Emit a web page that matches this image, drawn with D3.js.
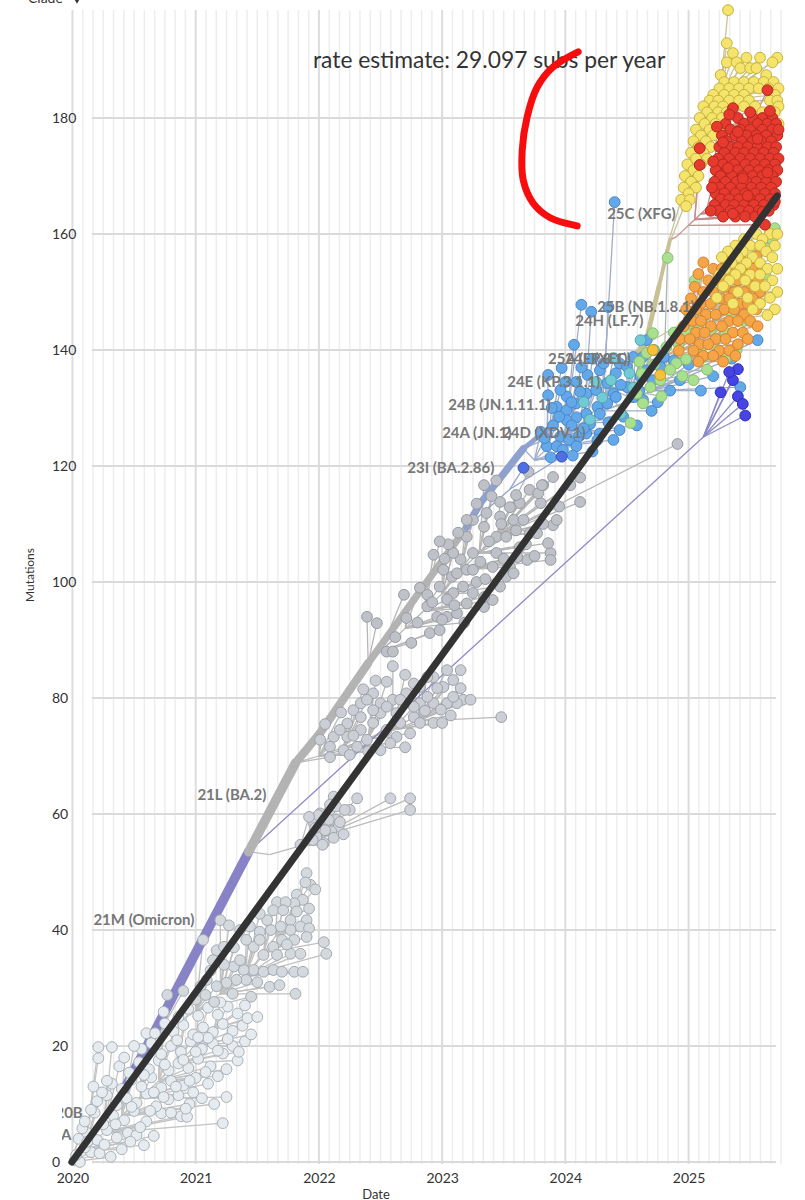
<!DOCTYPE html>
<html>
<head>
<meta charset="utf-8">
<script src="https://cdn.jsdelivr.net/npm/d3@7"></script>
<style>
body { margin: 0; background: #fff; }
svg { display: block; font-family: Lato, "Open Sans", sans-serif; }
</style>
</head>
<body>
<svg id="chart" width="805" height="1200"></svg>
<script>
// clock view: date vs. mutations, tips grouped by clade colour

var yearTicks = [2020, 2021, 2022, 2023, 2024, 2025];
var mutTicks = [0, 20, 40, 60, 80, 100, 120, 140, 160, 180];
var rate = 29.097;
var rootDate = 2019.995;
var lastDate = 2025.72;

// [id, parent, date, mutations, weight (descendants), clade colour]
var backbone = [
	["root", null, 2019.99, 0, 1, "grey"],
	["20B", "root", 2020.42, 12.5, 2, "grey"],
	["21L", "20B", 2021.43, 53.5, 8, "purple"],
	["b1", "21L", 2021.81, 68.8, 8, "grey"],
	["b2", "b1", 2022.01, 74, 7, "grey"],
	["b3", "b2", 2022.4, 86, 7, "grey"],
	["b4", "b3", 2022.77, 96.9, 6, "grey"],
	["b5", "b4", 2023.2, 109.5, 6, "grey"],
	["b5a", "b5", 2023.31, 113.6, 6, "bluegrey"],
	["23I", "b5a", 2023.66, 123, 6, "bluegrey"],
	["b6", "23I", 2024.3, 134, 4, "bluegrey"],
	["b7", "b6", 2024.65, 141, 4, "tan"],
	["b8", "b7", 2024.76, 151, 4, "tan"],
	["b9", "b8", 2024.85, 159, 3, "tan"]
];

// [text, date, mutations]
var cladeLabels = [
	["20A", 2019.765, 3.8],
	["20B", 2019.862, 7.6],
	["21M (Omicron)", 2020.17, 40.9],
	["21L (BA.2)", 2021.014, 62.4],
	["23I (BA.2.86)", 2022.717, 118.8],
	["24A (JN.1)", 2023.0, 124.8],
	["24D (XDV.1)", 2023.487, 124.8],
	["24B (JN.1.11.1)", 2023.05, 129.7],
	["24E (KP.3.1.1)", 2023.528, 133.6],
	["25A (LP.8.1)", 2023.86, 137.6],
	["24F (XEC)", 2023.998, 137.6],
	["24H (LF.7)", 2024.08, 144.1],
	["25B (NB.1.8.1)", 2024.258, 146.6],
	["25C (XFG)", 2024.339, 162.6]
];

// ---- tips [date, mutations]
var tipsEarly = [
	[2020.02,0.3],[2020.06,0],[2020.15,1.7],[2020.31,0.9],[2020.58,2.9],[2020.1,2.5],[2020.22,1.5],[2020.4,2.2],[2020.03,1.2],
	[2020.05,4],[2020.12,5],[2020.2,3.8],[2020.28,5.5],[2020.36,4.2],[2020.45,5],[2020.08,5.8],[2020.52,4.6],
	[2020.1,7],[2020.18,8.5],[2020.25,6.5],[2020.33,8],[2020.42,7.2],[2020.5,8.8],[2020.6,7],[2020.72,8.4],[2020.88,7.9],[2020.93,7.8],[2021.22,6.7],[2020.15,9],
	[2020.2,10.5],[2020.28,11.5],[2020.36,9.8],[2020.44,11],[2020.52,10.2],[2020.6,11.8],[2020.68,9.6],[2020.78,10.8],[2020.86,11.5],[2020.95,10],[2020.24,12],
	[2020.32,13.5],[2020.4,12.6],[2020.48,14.2],[2020.56,13],[2020.64,14.6],[2020.72,12.8],[2020.8,14],[2020.9,13.2],[2021.0,14.5],[2021.1,13.5],[2021.18,14.8],
	[2020.38,16.5],[2020.46,15.4],[2020.54,17.2],[2020.62,16],[2020.7,17.5],[2020.78,15.8],[2020.86,17],[2020.94,16.2],[2021.02,17.8],[2021.12,16.5],[2021.25,11.2],
	[2020.21,19.8],[2020.32,19.8],[2020.21,17.9],[2020.56,19.5],[2020.64,20.5],[2020.72,18.6],[2020.8,20],[2020.88,19],[2020.96,20.8],[2021.05,19.5],[2021.14,20.4],[2021.22,18.7],[2021.3,20],[2021.4,20.8],
	[2020.6,22.2],[2020.67,22.2],[2020.82,22.5],[2020.9,23.6],[2020.98,22],[2021.06,23.2],[2021.14,22.4],[2021.22,23.8],[2021.3,22.6],[2021.38,23.5],[2020.75,23.9],
	[2020.74,25.9],[2020.86,25],[2020.94,26.4],[2021.02,25.2],[2021.1,26.6],[2021.18,25.4],[2021.26,26.8],[2021.34,25.6],[2021.42,24.8],
	[2020.12,3.5],[2020.26,3],[2020.35,6.5],[2020.47,3.5],[2020.55,6],[2020.66,4.5],[2020.48,9.5],[2020.63,8.8],[2020.8,8.5],[2020.74,11.2],
	[2020.92,9.2],[2021.05,11],[2021.15,10],[2020.98,12],[2020.58,15],[2020.66,12],[2020.84,13],[2020.95,14],[2021.08,15.5],[2021.25,16],
	[2021.34,17.5],[2020.75,16.8],[2020.9,17.6],[2021.0,19],[2021.18,19.2],[2021.1,21.4],[2021.26,21.2],[2021.45,22],[2021.35,19],[2020.85,21],
	[2021.02,21.5],[2021.5,25],[2021.4,27],[2021.2,27.5],[2020.5,20],[2020.42,18],[2020.28,14],[2020.17,13]
];
var hubsEarly = [[2020.1,2],[2020.25,5],[2020.4,8],[2020.55,11],[2020.7,14],[2020.85,17],[2021.0,20],[2021.15,23]];

var tipsDelta = [
	[2020.77,28.8],[2021.9,49.8],[2021.93,47.8],[2021.89,48.2],[2021.97,47],[2021.82,46.1],[2021.87,45.2],[2021.8,44.6],[2021.92,43.7],
	[2021.66,44.8],[2021.73,44.8],[2021.82,43.2],[2021.77,41.7],[2021.9,41.7],[2021.85,40.6],[2021.92,40.3],[2021.77,40],[2021.69,40.6],
	[2021.61,40],[2021.52,39.7],[2022.04,37.9],[2022.06,35.9],[2021.8,38.3],[2021.9,38.8],[2021.7,38.3],[2021.63,37.1],[2021.55,35.7],
	[2021.47,37.1],[2021.77,35.9],[2021.85,35.9],[2021.66,35.7],[2021.47,33.1],[2021.55,32.8],[2021.63,33.1],[2021.7,32.8],[2021.8,32.8],
	[2021.87,32.8],[2021.39,33.1],[2021.31,33.7],[2021.23,34],[2021.41,31.4],[2021.33,31.4],[2021.25,30.9],[2021.17,30.3],[2021.09,31.4],
	[2021.04,30.3],[2021.81,29],[2021.17,36.5],[2021.23,37.1],[2021.14,34.8],[2021.2,41.7],[2021.27,40.8],[2021.06,38.3],[2021.31,37],
	[2021.36,34.8],[2021.41,38.3],[2021.52,38.3],[2021.36,40],[2021.44,40.6],[2021.58,41.7],[2021.63,43.4],[2021.71,43.4],[2021.52,42.8],
	[2021.0,28],[2021.08,28.8],[2021.15,27.6],[2021.3,29],[2021.45,28.5],[2021.5,31],[2021.6,30.2],[2020.9,29.5],[2021.12,33],[2021.68,30.5],[2021.74,37.5]
];
var hubsDelta = [[2020.7,22],[2021.0,26],[2021.2,29],[2021.4,32],[2021.55,36],[2021.65,39],[2021.75,42]];

var tipsBA1 = [
	[2022.31,62.7],[2022.58,62.7],[2022.74,62.7],[2022.74,60.7],[2022.25,60.7],[2022.12,63],[2022.01,60.1],[2022.06,59],[2022.14,59],
	[2022.16,57.8],[2022.1,57],[2022.01,57.3],[2022.04,55],[2021.98,56.1],[2021.96,58.4],[2022.09,60.7],[2022.14,61.3],[2021.995,59.8],
	[2022.05,57.2],[2022.12,55.9],[2022.17,58.6],[2021.95,55.5],[2021.85,54.7],[2022.21,60.7],[2022.09,61.6],[2021.97,57.6],[2022.03,54.7],
	[2022.08,59],[2022.2,56.5],[2021.92,59.5]
];
var hubsBA1 = [[2021.6,53],[2021.85,54.5],[2022.0,56]];

var tipsBA2 = [
	[2022.55,82.8],[2022.44,80.8],[2022.28,77.9],[2022.34,79.1],[2022.5,79.1],[2022.6,79.7],[2022.71,80.8],[2022.82,81.9],[2022.93,83.6],
	[2023.04,84.8],[2023.09,83.1],[2023.15,84.8],[2023.01,81.9],[2023.15,81.7],[2023.17,79.7],[2023.23,79.7],[2023.12,79.1],[2023.04,79.1],
	[2022.93,79.1],[2022.82,79.1],[2022.77,76.7],[2022.66,75.7],[2022.55,74.5],[2022.44,75.7],[2022.34,74.5],[2022.23,73.3],[2022.12,73.3],
	[2022.01,72.8],[2022.09,71.6],[2022.2,71],[2022.31,71.6],[2022.39,72.8],[2022.5,71],[2022.63,73.3],[2022.74,73.9],[2022.93,75.7],
	[2023.0,75.7],[2023.48,76.7],[2022.09,69.8],[2022.5,77.4],[2022.63,77.4],[2022.39,79.7],[2022.44,77.9],[2022.77,78.5],[2022.88,80.2],
	[2022.96,81.7],[2022.88,83.6],[2022.77,82.5],[2022.66,79.7],[2022.55,78.5],[2022.34,76.7],[2022.23,75.6],[2022.17,74.5],[2022.82,75.7],
	[2023.09,80.2],[2022.7,84],[2022.6,85.5],[2022.25,70.2],
	[2022.28,73.5],[2022.4,70.8],[2022.58,72.2],[2022.7,71.5],[2022.86,77.8],[2022.99,78],[2023.07,77],[2022.46,83],[2022.36,81.5],
	[2022.18,77.5],[2022.05,75.5]
];
var hubsBA2 = [[2022.0,70],[2022.2,71.5],[2022.4,73],[2022.6,74.5],[2022.8,76]];

var tipsXBB = [
	[2022.39,94],[2022.47,92.9],[2022.55,88],[2022.6,88],[2022.69,97.8],[2022.71,93.8],[2022.82,99],[2022.88,97.8],[2022.93,104.7],
	[2023.01,102.1],[2023.08,100.9],[2022.88,95.8],[2022.96,94],[2022.9,91.2],[2022.98,91.7],[2023.04,94],[2023.12,94.6],[2023.2,96.3],
	[2023.25,98.1],[2023.34,95.7],[2023.17,99.2],[2023.09,98.1],[2023.04,97],[2022.98,99.2],[2023.2,102.1],[2023.25,102.1],[2023.31,103.5],
	[2023.15,103.9],[2023.09,105],[2023.25,105],[2023.44,105],[2023.41,102.6],[2023.52,100.9],[2023.47,99.2],[2023.41,96.9],[2023.34,97.4],
	[2023.69,103.8],[2023.88,105],[2023.88,103.8],[2023.86,106.7],[2023.9,109.8],[2023.93,110.7],[2024.12,113.8],[2024.04,116.7],[2023.9,118.1],
	[2023.82,116.7],[2023.71,115.9],[2023.63,113.6],[2023.55,112.9],[2023.47,113.8],[2023.58,110.7],[2023.66,110.7],[2023.47,111.3],[2023.36,111.9],
	[2023.25,110.7],[2023.2,110.7],[2023.34,109.5],[2023.44,107.8],[2023.52,107.8],[2023.6,108.9],[2023.71,108.4],[2023.77,108.4],[2023.8,113.6],
	[2023.78,115.3],[2023.81,116.7],[2023.34,116.7],[2023.44,117.5],[2023.61,104.3],[2023.55,102.6],[2023.63,106],[2023.2,107.8],[2023.13,108.5],
	[2024.91,123.8],[2024.12,118],[2023.05,106.5],[2022.98,107],[2023.28,113.5],[2023.4,114.8],[2023.7,119],
	[2022.62,90.5],[2022.75,89.5],[2022.8,93],[2022.92,96.5],[2023.0,93.5],[2023.1,96],[2023.18,93],[2023.28,100],[2023.35,100.5],
	[2023.38,107],[2023.5,104],[2023.58,101.5],[2023.68,106.5],[2023.75,104.5],[2023.82,110],[2023.95,113],[2023.12,101.5],[2023.02,104],
	[2023.48,110],[2023.6,115]
];
var hubsXBB = [[2022.5,88],[2022.7,92],[2022.85,95],[2023.0,98],[2023.15,102],[2023.3,105],[2023.45,108]];

var tipsJN = [
	[2024.13,147.8],[2024.21,146.6],[2024.35,147.4],[2024.07,140.9],[2023.97,136.9],[2023.86,135.7],[2024.18,135.7],[2024.09,134.5],
	[2024.01,132],[2023.93,130.2],[2024.01,129.6],[2024.09,130.8],[2024.17,132.5],[2024.25,133.1],[2024.34,134.3],[2024.39,132.5],
	[2024.34,130.8],[2024.26,130.2],[2024.17,129],[2024.09,128.4],[2024.01,127.9],[2023.96,125.1],[2024.03,124.5],[2024.11,125.1],
	[2023.85,123.4],[2023.93,123.4],[2023.98,122.8],[2024.09,123.4],[2024.28,129],[2024.41,131.9],[2024.5,133.6],[2024.55,131.9],
	[2024.61,135.4],[2024.55,138.8],[2024.63,138.8],[2024.66,136.5],[2024.71,134.8],[2024.77,137.1],[2024.8,138.8],[2024.88,138.2],
	[2024.93,134.8],[2024.63,131.4],[2024.66,141.7],[2024.28,136.5],[2024.31,137.7],[2024.41,136],[2024.44,137.7],[2024.5,137.1],
	[2024.39,124.5],[2024.44,126.2],[2024.28,125.6],[2024.17,125.6],[2024.26,124.5],[2023.8,125.9],[2023.83,124.8],[2023.89,130],
	[2023.86,132.2],[2023.96,133.1],[2024.40,165.5],[2024.05,127],[2024.2,127.2],[2024.12,132.8],[2024.47,128.5],[2024.58,127],
	[2024.7,129.5],[2025.0,137.5],[2025.1,133],[2025.2,135.5],[2025.42,133.6],[2025.56,141.7],[2025.35,138.5],
	[2023.9,127],[2023.95,128.5],[2024.05,131],[2024.0,134.5],[2024.13,137],[2024.22,138.5],[2024.15,126.5],[2024.35,127.5],
	[2024.45,134],[2024.6,133],[2024.75,131],[2024.85,133],[2023.88,121.5],[2024.06,121.8],[2024.22,122.5]
];
var hubsJN = [[2023.75,121],[2023.85,123],[2024.0,125.5],[2024.15,127.5],[2024.3,129.5],[2024.5,131],[2024.7,133]];

var tips23I = [[2023.66,119.7],[2023.97,121.6]];
var hubs23I = [[2023.55,116]];

var tipsTeal = [
	[2024.37,134.8],[2024.52,136],[2024.61,141.7],[2024.45,129],[2024.2,128],[2024.72,140],[2024.3,131.8],[2024.15,131],
	[2024.39,138.6],[2024.55,133.5],[2024.25,134.5]
];
var hubsTeal = [[2024.1,127],[2024.3,129.5],[2024.5,131]];

var tipsGreen = [
	[2024.71,142.9],[2025.03,144.6],[2025.12,145.7],[2025.07,143.4],[2024.98,142.9],[2025.12,138.8],[2025.15,136.6],[2025.04,134.8],
	[2024.98,138.4],[2024.9,137.7],[2024.77,134.8],[2024.69,133.6],[2024.63,130.8],[2024.58,132.5],[2024.53,127.4],[2024.85,136.6],
	[2025.39,140],[2024.83,155.9],[2025.6,158.1],[2025.68,159],[2025.66,160.2],[2025.58,150],[2025.62,153],[2025.2,141],[2024.92,141],
	[2024.6,138],[2024.95,135.5],[2025.45,145],[2025.3,138.5],[2025.58,162],[2025.7,161],[2025.63,157.5],
	[2024.72,137.5],[2024.66,139.5],[2024.82,140.5],[2024.88,143],[2025.0,146.5],[2025.22,149],[2025.3,143],[2025.5,148],
	[2025.35,146],[2024.78,132],[2025.1,140.5],[2025.18,143.5],[2024.62,136],[2025.05,152],[2025.45,152.5]
];
var hubsGreen = [[2024.4,133],[2024.6,134.5],[2024.8,136],[2025.0,138]];

var tipsGold = [[2024.77,135.7],[2024.71,140]];
var hubsGold = [[2024.6,134.5]];

var tipsDarkBlue = [[2025.26,132.7],[2025.36,134.8],[2025.4,132],[2025.44,130.7],[2025.46,128.7],[2025.4,136.7],[2025.33,136.2]];
var hubsDarkBlue = [[2025.12,125]];

// dense clusters: [mutations, [dates...]]
var rowsOrange = [
	[156.2,[2025.30,2025.42,2025.55]],
	[155.1,[2025.12,2025.36,2025.48]],
	[154.0,[2025.20,2025.27,2025.52,2025.60]],
	[153.1,[2025.08,2025.33,2025.45]],
	[152.0,[2025.16,2025.24,2025.40,2025.56]],
	[150.9,[2025.05,2025.30,2025.50]],
	[150.0,[2025.12,2025.20,2025.37,2025.45,2025.58]],
	[148.9,[2025.02,2025.26,2025.33,2025.52]],
	[148.0,[2025.10,2025.18,2025.42,2025.48]],
	[147.0,[2024.98,2025.06,2025.29,2025.37,2025.55]],
	[146.1,[2025.14,2025.22,2025.45]],
	[145.0,[2025.03,2025.10,2025.33,2025.40,2025.50]],
	[144.1,[2024.96,2025.18,2025.27,2025.56]],
	[143.0,[2025.06,2025.13,2025.36,2025.44]],
	[141.9,[2024.93,2025.01,2025.22,2025.30,2025.48]],
	[141.0,[2025.09,2025.16,2025.40]],
	[139.9,[2024.92,2025.04,2025.25,2025.33]],
	[139.0,[2025.12,2025.20,2025.38]],
	[138.0,[2025.08,2025.28]]
];
var hubsOrange = [[2024.7,138],[2024.9,140],[2025.05,142],[2025.2,145]];

var rowsYellowLow = [
	[160.0,[2025.55,2025.66,2025.72]],
	[159.1,[2025.45,2025.60]],
	[158.0,[2025.38,2025.50,2025.58,2025.70]],
	[157.0,[2025.32,2025.44,2025.63]],
	[156.0,[2025.27,2025.40,2025.52,2025.68]],
	[155.0,[2025.35,2025.47,2025.58]],
	[154.0,[2025.30,2025.42,2025.64,2025.72]],
	[153.0,[2025.25,2025.38,2025.50,2025.58]],
	[152.0,[2025.33,2025.46,2025.68]],
	[151.0,[2025.28,2025.54,2025.62]],
	[150.0,[2025.40,2025.72]],
	[149.0,[2025.23,2025.48,2025.66]],
	[148.0,[2025.36,2025.58]],
	[147.0,[2025.52,2025.70]],
	[146.0,[2025.64]]
];
var hubsYellowLow = [[2024.9,144],[2025.1,147],[2025.25,150]];

var rowsYellowHigh = [
	[198.6,[2025.32]],
	[192.9,[2025.31]],
	[191.2,[2025.36]],
	[190.4,[2025.47,2025.58,2025.72]],
	[189.6,[2025.31,2025.39,2025.68]],
	[188.6,[2025.42,2025.50,2025.55]],
	[187.4,[2025.26,2025.63]],
	[186.2,[2025.29,2025.37,2025.45,2025.53,2025.61,2025.69]],
	[185.1,[2025.25,2025.33,2025.41,2025.49,2025.57,2025.65,2025.73]],
	[184.0,[2025.20,2025.29,2025.37,2025.45,2025.70]],
	[183.0,[2025.17,2025.24,2025.33,2025.41,2025.49,2025.66,2025.72]],
	[182.0,[2025.12,2025.21,2025.28,2025.45,2025.54,2025.73]],
	[181.0,[2025.15,2025.24,2025.31,2025.60,2025.70]],
	[180.0,[2025.09,2025.19,2025.27]],
	[179.0,[2025.13,2025.22,2025.73]],
	[178.0,[2025.06,2025.17,2025.25]],
	[177.0,[2025.10,2025.20]],
	[176.0,[2025.04,2025.14]],
	[175.0,[2025.08,2025.18]],
	[174.0,[2025.02,2025.12]],
	[173.0,[2025.06,2025.15]],
	[172.0,[2024.99,2025.10]],
	[171.0,[2025.04]],
	[170.0,[2024.97,2025.08]],
	[169.0,[2025.02]],
	[168.0,[2024.96,2025.06]],
	[167.0,[2025.0]],
	[165.9,[2024.94,2025.01]],
	[164.8,[2024.98]]
];
var hubsYellowHigh = [[2024.8,156],[2024.95,164],[2025.05,171],[2025.15,177],[2025.25,183]];

var rowsRed = [
	[184.8,[2025.64]],
	[181.7,[2025.36]],
	[180.0,[2025.40,2025.52,2025.60,2025.68]],
	[179.0,[2025.30,2025.45,2025.56,2025.64,2025.71]],
	[178.0,[2025.34,2025.42,2025.50,2025.60,2025.68]],
	[177.0,[2025.27,2025.38,2025.47,2025.55,2025.63,2025.72]],
	[176.0,[2025.31,2025.43,2025.52,2025.59,2025.67]],
	[175.0,[2025.25,2025.35,2025.40,2025.48,2025.56,2025.64,2025.71]],
	[174.8,[2025.09]],
	[174.0,[2025.29,2025.38,2025.45,2025.53,2025.61,2025.69]],
	[173.0,[2025.24,2025.33,2025.42,2025.50,2025.58,2025.66,2025.73]],
	[172.0,[2025.28,2025.37,2025.46,2025.54,2025.62,2025.70]],
	[171.9,[2025.09]],
	[171.0,[2025.22,2025.31,2025.40,2025.49,2025.57,2025.65,2025.72]],
	[170.0,[2025.26,2025.35,2025.44,2025.52,2025.60,2025.68]],
	[169.0,[2025.21,2025.30,2025.39,2025.47,2025.55,2025.63,2025.71]],
	[168.0,[2025.25,2025.34,2025.43,2025.51,2025.59,2025.67]],
	[167.0,[2025.22,2025.29,2025.38,2025.46,2025.54,2025.62,2025.70]],
	[166.0,[2025.26,2025.33,2025.41,2025.50,2025.58,2025.66]],
	[165.0,[2025.21,2025.30,2025.37,2025.45,2025.53,2025.61,2025.69]],
	[164.0,[2025.24,2025.34,2025.42,2025.49,2025.57,2025.65]],
	[163.0,[2025.28,2025.38,2025.46,2025.54]],
	[161.6,[2025.62]]
];
var tipsRedScatter = [
	[2025.23,178.5],[2025.33,180.6],[2025.5,181],[2025.66,181.2],[2025.73,178],[2025.2,172.5],[2025.19,168],[2025.18,164],
	[2025.36,163.5],[2025.6,163.8],[2025.7,165.6],[2025.44,169.6],[2025.32,171.4],[2025.56,176.4],[2025.48,166.6],[2025.28,175.8],
	[2025.64,170.6],[2025.4,177.6]
];
var hubsRed = [[2024.9,159.5],[2024.95,160.5],[2025.0,161.5],[2025.05,162.5],[2025.1,163.5],[2025.15,164.5],[2025.2,165.5]];

// hand-drawn red annotation, in chart units
var squiggle = [
	[2024.104,191.4],[2023.901,188.8],[2023.771,185.3],[2023.690,180.2],[2023.650,174.5],
	[2023.658,169.3],[2023.739,165.3],[2023.877,162.8],[2024.096,161.4]
];

function fromRows(rows) {
	var out = [];
	rows.forEach(function(r) { r[1].forEach(function(d) { out.push([d, r[0]]); }); });
	return out;
}

var groups = [
	{tips: tipsEarly, hubs: hubsEarly, parent: "root", fill: "#e5ebef", stroke: "#a9b1b8", branch: "#c4c4c4"},
	{tips: tipsDelta, hubs: hubsDelta, parent: "20B", fill: "#d4d9de", stroke: "#a2a9b0", branch: "#c0c0c0"},
	{tips: tipsBA1, hubs: hubsBA1, parent: "21L", fill: "#d0d4da", stroke: "#a0a4ac", branch: "#bcbcbc"},
	{tips: tipsBA2, hubs: hubsBA2, parent: "b1", fill: "#cbced5", stroke: "#9da1a9", branch: "#b9b9b9"},
	{tips: tipsXBB, hubs: hubsXBB, parent: "b3", fill: "#bfc1c8", stroke: "#979aa2", branch: "#b6b6b6"},
	{tips: tipsJN, hubs: hubsJN, parent: "23I", fill: "#63a9ea", stroke: "#4a86c6", branch: "#a0adc9"},
	{tips: tips23I, hubs: hubs23I, parent: "b5", fill: "#4f6fe2", stroke: "#3a52b8", branch: "#8fa1cf"},
	{tips: tipsTeal, hubs: hubsTeal, parent: "23I", fill: "#72cad4", stroke: "#52a5b0", branch: "#a0b2c4"},
	{tips: tipsGreen, hubs: hubsGreen, parent: "b6", fill: "#a9e08f", stroke: "#86bd70", branch: "#a9b8b4"},
	{tips: tipsGold, hubs: hubsGold, parent: "b6", fill: "#f3c23a", stroke: "#c99a22", branch: "#b8b49a"},
	{tips: tipsDarkBlue, hubs: hubsDarkBlue, parent: "21L", fill: "#4744e4", stroke: "#2f2db3", branch: "#8d89c8"},
	{tips: fromRows(rowsOrange), hubs: hubsOrange, parent: "b7", fill: "#f5a446", stroke: "#d17f31", branch: "#c9aa8c"},
	{tips: fromRows(rowsYellowLow), hubs: hubsYellowLow, parent: "b7", fill: "#f4e46c", stroke: "#c7b23c", branch: "#c9c09a"},
	{tips: fromRows(rowsYellowHigh), hubs: hubsYellowHigh, parent: "b8", fill: "#f4e46c", stroke: "#c7b23c", branch: "#c9c29a"},
	{tips: fromRows(rowsRed).concat(tipsRedScatter), hubs: hubsRed, parent: "b9", fill: "#e53a2d", stroke: "#b3281f", branch: "#c98c8c"}
];

var cladeColour = {grey: "#b3b3b3", purple: "#8783c6", bluegrey: "#8fa1cf", tan: "#c8c196"};

// ---- scales
var x = d3.scaleLinear().domain([2019.98, 2025.75]).range([70, 781]);
var y = d3.scaleLinear().domain([0, 180]).range([1162, 118]);
var width = d3.scaleLinear().domain([1, 8]).range([1.5, 9.5]);

var svg = d3.select("#chart");

svg.append("defs").append("clipPath").attr("id", "plotclip")
	.append("rect").attr("x", 62).attr("y", 0).attr("width", 730).attr("height", 1168);

// ---- grid
var months = [];
for (var yr = 2020; yr <= 2025; yr++) {
	for (var m = 0; m < 12; m++) {
		var t = yr + m / 12;
		if (t <= 2025.76) months.push(t);
	}
}
var grid = svg.append("g");
grid.selectAll(".vline").data(months).enter().append("line")
	.attr("x1", function(d) { return x(d); })
	.attr("x2", function(d) { return x(d); })
	.attr("y1", 10).attr("y2", 1164)
	.attr("stroke", function(d, i) { return i % 12 == 0 ? "#dcdcdc" : "#ededed"; })
	.attr("stroke-width", function(d, i) { return i % 12 == 0 ? 2 : 1.5; });
grid.selectAll(".hline").data(mutTicks).enter().append("line")
	.attr("x1", 92).attr("x2", 776)
	.attr("y1", function(d) { return y(d); })
	.attr("y2", function(d) { return y(d); })
	.attr("stroke", "#dadada").attr("stroke-width", 2);

// ---- axes
var xAxis = svg.append("g").attr("transform", "translate(0,1167)")
	.call(d3.axisBottom(x).tickValues(yearTicks).tickFormat(d3.format("d")).tickSize(0).tickPadding(6));
xAxis.select(".domain").remove();
xAxis.selectAll("text").attr("font-size", 14).attr("fill", "#333").attr("font-family", "Lato");

var yAxis = svg.append("g").attr("transform", "translate(52,0)")
	.call(d3.axisLeft(y).tickValues(mutTicks).tickSize(0));
yAxis.select(".domain").remove();
yAxis.selectAll("text").attr("x", 0).attr("text-anchor", "start")
	.attr("font-size", 14).attr("fill", "#333").attr("font-family", "Lato");

svg.append("text").attr("x", 376).attr("y", 1199).attr("text-anchor", "middle")
	.attr("font-size", 13).attr("fill", "#333").text("Date");
svg.append("text").attr("transform", "translate(34,575) rotate(-90)").attr("text-anchor", "middle")
	.attr("font-size", 12).attr("fill", "#333").text("Mutations");
svg.append("text").attr("x", 28).attr("y", 3).attr("font-size", 14).attr("fill", "#333").text("Clade");
svg.append("path").attr("d", d3.symbol(d3.symbolTriangle, 28)())
	.attr("transform", "translate(77,-1) rotate(180)").attr("fill", "#333");

// ---- tree
var plot = svg.append("g").attr("clip-path", "url(#plotclip)");
var byId = {};
backbone.forEach(function(n) { byId[n[0]] = n; });

function pickHub(hubs, t, fallback) {
	var best = null;
	hubs.forEach(function(h) {
		if (h[0] <= t[0] && h[1] <= t[1] && (!best || h[1] > best[1])) best = h;
	});
	return best || fallback;
}

var segs = [];
groups.forEach(function(g) {
	var p = byId[g.parent];
	var root = [p[2], p[3]];
	g.hubs.forEach(function(h, i) {
		var from = i == 0 ? root : g.hubs[i - 1];
		segs.push({a: from, b: h, c: g.branch});
	});
	g.tips.forEach(function(t) {
		var h = pickHub(g.hubs, t, root);
		segs.push({a: h, b: t, c: g.branch});
	});
});

plot.append("g").selectAll("line").data(segs).enter().append("line")
	.attr("x1", function(d) { return x(d.a[0]); })
	.attr("y1", function(d) { return y(d.a[1]); })
	.attr("x2", function(d) { return x(d.b[0]); })
	.attr("y2", function(d) { return y(d.b[1]); })
	.attr("stroke", function(d) { return d.c; })
	.attr("stroke-width", 1.3);

plot.append("g").selectAll("line").data(backbone.filter(function(n) { return n[1]; })).enter().append("line")
	.attr("x1", function(d) { return x(byId[d[1]][2]); })
	.attr("y1", function(d) { return y(byId[d[1]][3]); })
	.attr("x2", function(d) { return x(d[2]); })
	.attr("y2", function(d) { return y(d[3]); })
	.attr("stroke", function(d) { return cladeColour[d[5]]; })
	.attr("stroke-width", function(d) { return width(d[4]); })
	.attr("stroke-linecap", "round");

groups.forEach(function(g) {
	plot.append("g").selectAll("circle").data(g.tips).enter().append("circle")
		.attr("cx", function(d) { return x(d[0]); })
		.attr("cy", function(d) { return y(d[1]); })
		.attr("r", 5.4)
		.attr("fill", g.fill)
		.attr("stroke", g.stroke)
		.attr("stroke-width", 1);
});

plot.append("g").selectAll("text").data(cladeLabels).enter().append("text")
	.attr("x", function(d) { return x(d[1]); })
	.attr("y", function(d) { return y(d[2]); })
	.attr("font-size", 15).attr("font-weight", 700).attr("fill", "#777")
	.text(function(d) { return d[0]; });

// ---- regression line
plot.append("line")
	.attr("x1", x(rootDate)).attr("y1", y(0))
	.attr("x2", x(lastDate)).attr("y2", y(rate * (lastDate - rootDate)))
	.attr("stroke", "#333").attr("stroke-width", 7).attr("stroke-linecap", "round");

svg.append("text").attr("x", 313).attr("y", 68).attr("font-size", 22.8).attr("fill", "#333")
	.text("rate estimate: " + rate.toFixed(3) + " subs per year");

svg.append("path").datum(squiggle)
	.attr("d", d3.line().x(function(d) { return x(d[0]); }).y(function(d) { return y(d[1]); }).curve(d3.curveCatmullRom))
	.attr("fill", "none").attr("stroke", "#f70d0d").attr("stroke-width", 7).attr("stroke-linecap", "round");
</script>
</body>
</html>
